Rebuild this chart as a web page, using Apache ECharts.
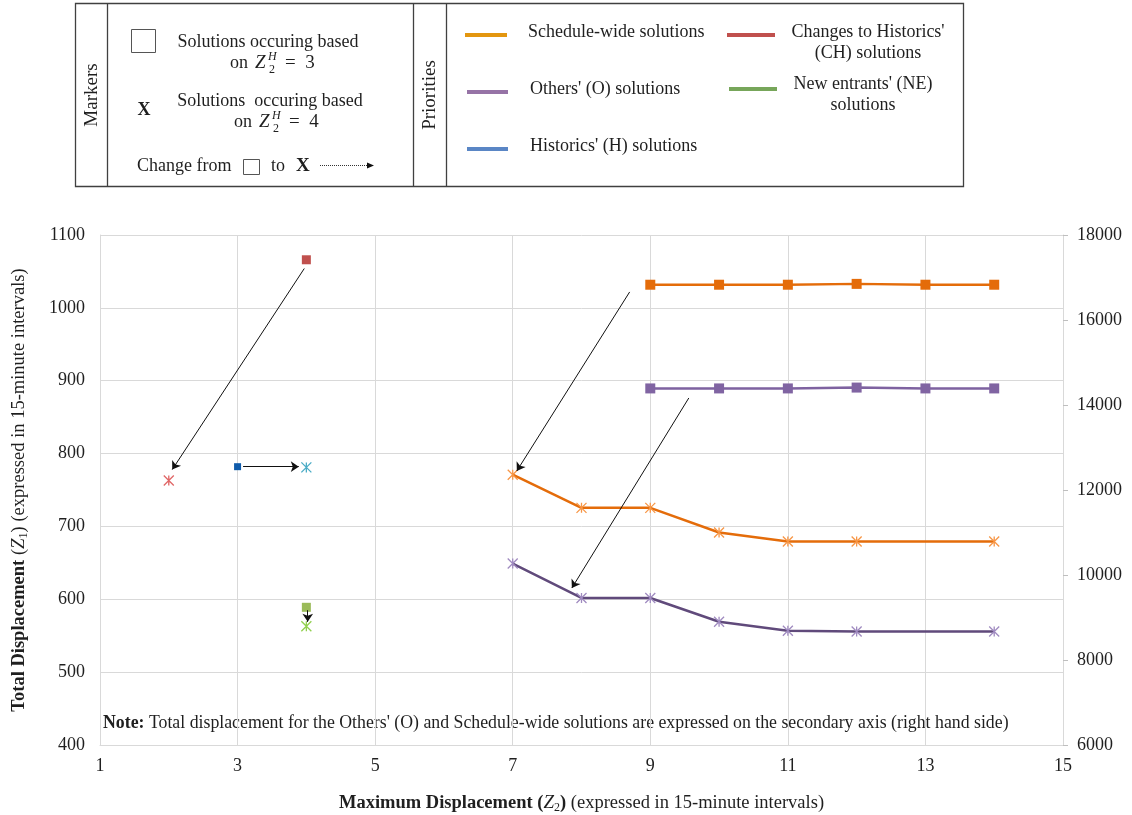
<!DOCTYPE html>
<html>
<head>
<meta charset="utf-8">
<script src="https://cdn.jsdelivr.net/npm/echarts@6/dist/echarts.min.js"></script>
<style>
html,body{margin:0;padding:0;background:#fff;}
#c{width:1132px;height:815px;}
</style>
</head>
<body>
<div id="c"></div>
<script>
// ---- data ----
const xTicks = [1, 3, 5, 7, 9, 11, 13, 15];
const z2Squares = [9, 10, 11, 12, 13, 14];
const scheduleSquares = [16830, 16830, 16830, 16850, 16830, 16830];
const othersSquares = [14390, 14390, 14390, 14410, 14390, 14390];
const z2Stars = [7, 8, 9, 10, 11, 12, 14];
const scheduleStars = [12360, 11580, 11580, 11000, 10790, 10790, 10790];
const othersStars = [10270, 9460, 9460, 8900, 8690, 8670, 8670];
const chSquare = [[4, 1066]];
const chStar = [[2, 763]];
const hSquare = [[3, 782]];
const hStar = [[4, 781]];
const neSquare = [[4, 589]];
const neStar = [[4, 563]];
// annotation arrows (from -> to), in data units
const arrowsLeft = [[[3.97, 1054], [2.05, 778]], [[3.08, 782], [3.89, 782]], [[4.02, 585], [4.02, 569]]];
const arrowsRight = [[[8.70, 16660], [7.06, 12450]], [[9.56, 14165], [7.86, 9694]]];

const FONT = 'Liberation Serif';
const TXT = '#1f1f1f';
const GRID = '#d9d9d9';
const STAR = 'path://M0 0L10 10M10 0L0 10M5 0L5 10';
const FS = 18;

function pair(xs, ys) { return xs.map((x, i) => [x, ys[i]]); }
function starItem(c) { return { color: c, borderColor: c, borderWidth: 1.3, opacity: 1 }; }
function sqItem(c) { return { color: c, opacity: 1 }; }

const chart = echarts.init(document.getElementById('c'));

function txt(x, y, text, extra) {
  return { type: 'text', x: x, y: y, style: Object.assign({ text: text, font: FS + 'px "' + FONT + '"', fill: TXT, align: 'left', verticalAlign: 'middle' }, extra || {}) };
}
function zLabel(x, y, num) {
  // "on Z_2^H = n"
  return { type: 'group', x: x, y: y, children: [
    { type: 'text', x: 0, y: 0, style: { text: 'on', font: FS + 'px "' + FONT + '"', fill: TXT, verticalAlign: 'middle' } },
    { type: 'text', x: 25, y: 0, style: { text: 'Z', font: 'italic 19px "' + FONT + '"', fill: TXT, verticalAlign: 'middle' } },
    { type: 'text', x: 38, y: -6, style: { text: 'H', font: 'italic 12px "' + FONT + '"', fill: TXT, verticalAlign: 'middle' } },
    { type: 'text', x: 39, y: 7, style: { text: '2', font: '12px "' + FONT + '"', fill: TXT, verticalAlign: 'middle' } },
    { type: 'text', x: 55, y: 0, style: { text: '=  ' + num, font: '19px "' + FONT + '"', fill: TXT, verticalAlign: 'middle' } }
  ] };
}
function legLine(x1, x2, y, c) {
  return { type: 'line', shape: { x1: x1, y1: y, x2: x2, y2: y }, style: { stroke: c, lineWidth: 4 } };
}

const graphics = [
  { type: 'rect', shape: { x: 75.5, y: 3.5, width: 888, height: 183 }, style: { fill: 'none', stroke: '#404040', lineWidth: 1.3 } },
  { type: 'line', shape: { x1: 107.5, y1: 3.5, x2: 107.5, y2: 186.5 }, style: { stroke: '#404040', lineWidth: 1.3 } },
  { type: 'line', shape: { x1: 413.5, y1: 3.5, x2: 413.5, y2: 186.5 }, style: { stroke: '#404040', lineWidth: 1.3 } },
  { type: 'line', shape: { x1: 446.5, y1: 3.5, x2: 446.5, y2: 186.5 }, style: { stroke: '#404040', lineWidth: 1.3 } },
  { type: 'text', x: 92, y: 95, rotation: Math.PI / 2, style: { text: 'Markers', font: '19px "' + FONT + '"', fill: TXT, align: 'center', verticalAlign: 'middle' } },
  { type: 'text', x: 430, y: 95, rotation: Math.PI / 2, style: { text: 'Priorities', font: '19px "' + FONT + '"', fill: TXT, align: 'center', verticalAlign: 'middle' } },
  { type: 'rect', shape: { x: 131.5, y: 29.5, width: 24, height: 23 }, style: { fill: '#fff', stroke: '#555', lineWidth: 1 } },
  txt(268, 42, 'Solutions occuring based', { align: 'center' }),
  zLabel(230, 63, 3),
  txt(144, 110, 'X', { align: 'center', font: 'bold 18px "' + FONT + '"' }),
  txt(270, 101, 'Solutions  occuring based', { align: 'center' }),
  zLabel(234, 122, 4),
  txt(137, 166, 'Change from'),
  { type: 'rect', shape: { x: 243.5, y: 159.5, width: 16, height: 15 }, style: { fill: '#fff', stroke: '#555', lineWidth: 1 } },
  txt(271, 166, 'to'),
  txt(296, 166, 'X', { font: 'bold 19px "' + FONT + '"' }),
  { type: 'line', shape: { x1: 320, y1: 165.5, x2: 369, y2: 165.5 }, style: { stroke: '#333', lineWidth: 1, lineDash: [1, 1] } },
  { type: 'polygon', shape: { points: [[374, 165.5], [367, 162.5], [367, 168.5]] }, style: { fill: '#111' } },
  legLine(465, 507, 35, '#E3960F'),
  txt(528, 32, 'Schedule-wide solutions'),
  legLine(467, 508, 92, '#9673A6'),
  txt(530, 89, "Others' (O) solutions"),
  legLine(467, 508, 149, '#5A86C5'),
  txt(530, 146, "Historics' (H) solutions"),
  legLine(727, 775, 35, '#C0504D'),
  txt(868, 32, "Changes to Historics'", { align: 'center' }),
  txt(868, 53, '(CH) solutions', { align: 'center' }),
  legLine(729, 777, 89, '#77A65A'),
  txt(863, 84, "New entrants' (NE)", { align: 'center' }),
  txt(863, 105, 'solutions', { align: 'center' }),
  { type: 'text', x: 103, y: 723, style: { text: '{b|Note:} Total displacement for the Others\' (O) and Schedule-wide solutions are expressed on the secondary axis (right hand side)', font: '17.8px "' + FONT + '"', fill: TXT, verticalAlign: 'middle', rich: { b: { fontWeight: 'bold', fontFamily: FONT, fontSize: 17.8, fill: TXT } } } }
];

function arrowSeries(yIdx, list) {
  return {
    type: 'line', yAxisIndex: yIdx, data: [], silent: true, z: 10,
    markLine: {
      silent: true, symbol: ['none', 'arrow'], symbolSize: 8, animation: false,
      label: { show: false },
      lineStyle: { color: '#111', width: 1, type: 'solid' },
      emphasis: { disabled: true },
      data: list.map(a => [{ coord: a[0] }, { coord: a[1] }])
    }
  };
}

const richName = {
  b: { fontWeight: 'bold', fontFamily: FONT, fontSize: 18.5, color: TXT },
  i: { fontStyle: 'italic', fontFamily: FONT, fontSize: 19, color: TXT },
  s: { fontFamily: FONT, fontSize: 12, color: TXT, verticalAlign: 'bottom', lineHeight: 22 }
};

const option = {
  animation: false,
  backgroundColor: '#fff',
  textStyle: { fontFamily: FONT },
  graphic: graphics,
  grid: { left: 100, right: 69, top: 235, bottom: 70, containLabel: false, outerBoundsMode: 'none' },
  xAxis: {
    type: 'value', min: xTicks[0], max: xTicks[xTicks.length - 1], interval: 2,
    axisLine: { show: true, lineStyle: { color: GRID } },
    axisTick: { show: false },
    splitLine: { show: true, lineStyle: { color: GRID } },
    axisLabel: { fontFamily: FONT, fontSize: FS, color: TXT, margin: 12, formatter: v => String(v) },
    name: '{b|Maximum Displacement (}{i|Z}{s|2}{b|)} (expressed in 15-minute intervals)',
    nameLocation: 'middle', nameGap: 47,
    nameTextStyle: { fontFamily: FONT, fontSize: 18.5, color: TXT, rich: richName }
  },
  yAxis: [{
    type: 'value', min: 400, max: 1100, interval: 100,
    axisLine: { show: true, lineStyle: { color: GRID } },
    axisTick: { show: false },
    splitLine: { show: true, lineStyle: { color: GRID } },
    axisLabel: { fontFamily: FONT, fontSize: FS, color: TXT, margin: 15, formatter: v => String(v) },
    name: '{b|Total Displacement} ({i|Z}{s|1}) (expressed in 15-minute intervals)',
    nameLocation: 'middle', nameGap: 70,
    nameTextStyle: { fontFamily: FONT, fontSize: 18.5, color: TXT, rich: richName }
  }, {
    type: 'value', min: 6000, max: 18000, interval: 2000, position: 'right',
    axisLine: { show: true, lineStyle: { color: GRID } },
    axisTick: { show: true, length: 5, lineStyle: { color: '#bfbfbf' } },
    splitLine: { show: false },
    axisLabel: { fontFamily: FONT, fontSize: FS, color: TXT, margin: 14, formatter: v => String(v) }
  }],
  series: [
    { name: 'Schedule-wide (Z=3)', type: 'line', yAxisIndex: 1, data: pair(z2Squares, scheduleSquares),
      symbol: 'rect', symbolSize: 10, lineStyle: { color: '#E46C0A', width: 2.5 }, itemStyle: sqItem('#E46C0A') },
    { name: 'Others (Z=3)', type: 'line', yAxisIndex: 1, data: pair(z2Squares, othersSquares),
      symbol: 'rect', symbolSize: 10, lineStyle: { color: '#7E62A0', width: 2.5 }, itemStyle: sqItem('#8064A2') },
    { name: 'Schedule-wide (Z=4)', type: 'line', yAxisIndex: 1, data: pair(z2Stars, scheduleStars),
      symbol: STAR, symbolSize: 10, lineStyle: { color: '#E46C0A', width: 2.5 }, itemStyle: starItem('#F79646') },
    { name: 'Others (Z=4)', type: 'line', yAxisIndex: 1, data: pair(z2Stars, othersStars),
      symbol: STAR, symbolSize: 10, lineStyle: { color: '#604A7B', width: 2.5 }, itemStyle: starItem('#A08BC0') },
    { name: 'CH (Z=3)', type: 'scatter', data: chSquare, symbol: 'rect', symbolSize: 9, itemStyle: sqItem('#C0504D') },
    { name: 'CH (Z=4)', type: 'scatter', data: chStar, symbol: STAR, symbolSize: 10, itemStyle: starItem('#E06666') },
    { name: 'H (Z=3)', type: 'scatter', data: hSquare, symbol: 'rect', symbolSize: 7, itemStyle: sqItem('#0F5BAA') },
    { name: 'H (Z=4)', type: 'scatter', data: hStar, symbol: STAR, symbolSize: 10, itemStyle: starItem('#4BACC6') },
    { name: 'NE (Z=3)', type: 'scatter', data: neSquare, symbol: 'rect', symbolSize: 9, itemStyle: sqItem('#9BBB59') },
    { name: 'NE (Z=4)', type: 'scatter', data: neStar, symbol: STAR, symbolSize: 10, itemStyle: starItem('#92D050') },
    arrowSeries(0, arrowsLeft),
    arrowSeries(1, arrowsRight)
  ]
};
chart.setOption(option);
</script>
</body>
</html>
